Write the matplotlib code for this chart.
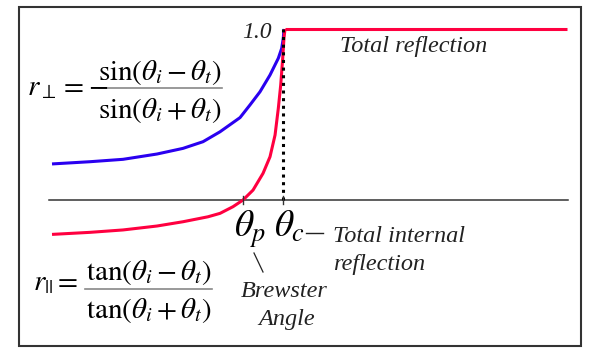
import numpy as np
import matplotlib
matplotlib.use('Agg')
import matplotlib.pyplot as plt
from matplotlib.patches import Rectangle
from matplotlib.lines import Line2D

plt.rcParams['font.family'] = ['Liberation Serif', 'DejaVu Serif']
plt.rcParams['mathtext.fontset'] = 'stix'

# values (angle in degrees, amplitude coefficient)
theta_perp = [0, 6.64, 12.41, 18.35, 22.89, 26.39, 29.36, 32.86, 34.60, 36.35,
              38.10, 39.55, 40.14, 40.42, 40.54]
r_perp = [0.211, 0.224, 0.238, 0.269, 0.302, 0.341, 0.399, 0.482, 0.556, 0.633,
          0.731, 0.829, 0.887, 0.946, 1.0]

theta_par = [0, 6.64, 12.41, 18.35, 22.89, 27.26, 29.36, 31.63, 33.38, 35.13,
             36.88, 38.10, 38.98, 39.55, 39.97, 40.32, 40.54, 40.72]
r_par = [-0.201, -0.189, -0.175, -0.152, -0.127, -0.098, -0.078, -0.039, 0.0, 0.058,
         0.156, 0.253, 0.380, 0.536, 0.673, 0.830, 0.947, 1.0]

theta_tot = [40.72, 90]
r_tot = [1.0, 1.0]

theta_p = 33.38
theta_c = 40.42

W, H = 600, 363
fig = plt.figure(figsize=(W / 100, H / 100), dpi=100)
ax = fig.add_axes([0, 0, 1, 1])
ax.set_xlim(-9.09, 95.77)
ax.set_ylim(-0.953, 1.1696)
ax.axis('off')


def P(x, y):
    # reference pixel -> figure fraction
    return x / W, 1 - y / H


blue = '#2a00f0'
red = '#ff0040'

ax.plot([-0.5, 90.2], [0, 0], color='#333333', lw=1.1)
ax.plot(theta_perp, r_perp, color=blue, lw=2.2, solid_capstyle='butt', solid_joinstyle='round')
ax.plot(theta_par, r_par, color=red, lw=2.2, solid_capstyle='butt', solid_joinstyle='round')
ax.plot(theta_tot, r_tot, color=red, lw=2.2, solid_capstyle='butt')
ax.plot([theta_c, theta_c], [0, 1.0], color='black', lw=2.2, ls=(0, (1, 1.5)))
for t in (theta_p, theta_c):
    ax.plot([t, t], [-0.025, 0.025], color='#333333', lw=1.0)

fig.patches.append(Rectangle(P(19, 346), 562 / W, 339 / H, transform=fig.transFigure,
                             fill=False, ec='#333333', lw=1.5))

tf = fig.transFigure
ital = dict(style='italic', color='#222222', transform=tf)

fig.text(*P(272, 38), '1.0', ha='right', va='baseline', fontsize=17, **ital)
fig.text(*P(340, 52), 'Total reflection', ha='left', va='baseline', fontsize=17.5, **ital)
fig.text(*P(333, 242), 'Total internal', ha='left', va='baseline', fontsize=17.5, **ital)
fig.text(*P(333, 270), 'reflection', ha='left', va='baseline', fontsize=17.5, **ital)
fig.text(*P(284, 297), 'Brewster', ha='center', va='baseline', fontsize=17.5, **ital)
fig.text(*P(287, 325), 'Angle', ha='center', va='baseline', fontsize=17.5, **ital)

fig.text(*P(234, 237), r'$\theta_p$', ha='left', va='baseline', fontsize=27, transform=tf)
fig.text(*P(274, 237), r'$\theta_c$', ha='left', va='baseline', fontsize=27, transform=tf)
fig.lines.append(Line2D([306 / W, 323 / W], [1 - 233 / H, 1 - 233 / H], transform=tf,
                        color='#222222', lw=1.0))
fig.lines.append(Line2D([254 / W, 263 / W], [1 - 253 / H, 1 - 272 / H], transform=tf,
                        color='#222222', lw=0.9))

# r_perp formula
fig.text(*P(27, 95), r'$r_{\perp} = -$', ha='left', va='baseline', fontsize=21, transform=tf)
fig.text(*P(160, 80), r'$\sin(\theta_i - \theta_t)$', ha='center', va='baseline', fontsize=21, transform=tf)
fig.text(*P(160, 118), r'$\sin(\theta_i + \theta_t)$', ha='center', va='baseline', fontsize=21, transform=tf)
fig.lines.append(Line2D([99 / W, 222 / W], [1 - 88 / H, 1 - 88 / H], transform=tf, color='#888888', lw=1.2))

# r_par formula
fig.text(*P(33, 290), r'$r_{||} =$', ha='left', va='baseline', fontsize=21, transform=tf)
fig.text(*P(149, 280), r'$\tan(\theta_i - \theta_t)$', ha='center', va='baseline', fontsize=21, transform=tf)
fig.text(*P(149, 318), r'$\tan(\theta_i + \theta_t)$', ha='center', va='baseline', fontsize=21, transform=tf)
fig.lines.append(Line2D([85 / W, 212 / W], [1 - 289 / H, 1 - 289 / H], transform=tf, color='#888888', lw=1.2))

fig.savefig('out.png', dpi=100)
